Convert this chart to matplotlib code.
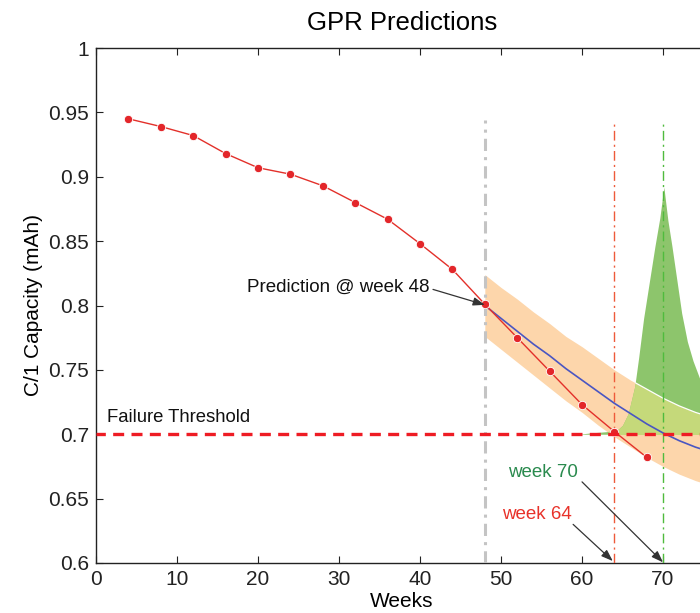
import matplotlib
matplotlib.use("Agg")
import matplotlib.pyplot as plt
import numpy as np

plt.rcParams['font.family'] = ['Liberation Sans', 'DejaVu Sans']

# Observed capacity data
obs_weeks = [4, 8, 12, 16, 20, 24, 28, 32, 36, 40, 44, 48, 52, 56, 60, 64, 68]
obs_cap = [0.945, 0.939, 0.932, 0.918, 0.907, 0.902, 0.893, 0.880, 0.867,
           0.848, 0.828, 0.801, 0.775, 0.749, 0.723, 0.702, 0.682]

# GPR prediction (mean and confidence band)
pred_weeks = [48, 50, 52, 54, 56, 58, 60, 62, 64, 66, 68, 70, 72, 74, 76]
pred_mean = [0.800, 0.790, 0.780, 0.770, 0.761, 0.751, 0.742, 0.733, 0.724,
             0.716, 0.708, 0.701, 0.695, 0.690, 0.686]
pred_upper = [0.824, 0.814, 0.805, 0.795, 0.786, 0.776, 0.768, 0.759, 0.750,
              0.742, 0.735, 0.728, 0.722, 0.717, 0.713]
pred_lower = [0.776, 0.766, 0.756, 0.746, 0.736, 0.726, 0.717, 0.707, 0.698,
              0.690, 0.682, 0.675, 0.669, 0.664, 0.660]

# Failure-time distribution (drawn above the threshold)
pdf_weeks = [59.5, 61, 63, 64.3, 65, 65.7, 66.5, 67, 67.6, 68.3, 69, 69.6, 70.1,
             70.6, 71.1, 71.7, 72.3, 73, 73.7, 74.6, 75.5, 76.5]
pdf_top = [0.700, 0.701, 0.702, 0.703, 0.707, 0.716, 0.737, 0.760, 0.790, 0.818,
           0.846, 0.868, 0.892, 0.866, 0.846, 0.820, 0.794, 0.772, 0.757, 0.742,
           0.732, 0.724]

threshold = 0.7
pred_week = 48
fail_actual = 64
fail_pred = 70

xticks = [0, 10, 20, 30, 40, 50, 60, 70]
yticks = [0.6, 0.65, 0.7, 0.75, 0.8, 0.85, 0.9, 0.95, 1.0]
ytick_labels = ['0.6', '0.65', '0.7', '0.75', '0.8', '0.85', '0.9', '0.95', '1']

fig = plt.figure(figsize=(7.0, 6.13), dpi=100)
ax = fig.add_axes([96 / 700, 50 / 613, 611.6 / 700, 515 / 613])
ax.set_xlim(0, 75.5)
ax.set_ylim(0.6, 1.0)

orange = '#fdd6ab'
green_dark = '#8dc56c'
green_light = '#c5d97a'

band = ax.fill_between(pred_weeks, pred_lower, pred_upper, color=orange,
                       linewidth=0, zorder=1)
g1 = ax.fill_between(pdf_weeks, threshold, pdf_top, color=green_dark,
                     linewidth=0, zorder=2)
g2 = ax.fill_between(pdf_weeks, threshold, pdf_top, color=green_light,
                     linewidth=0, zorder=3)
g2.set_clip_path(band.get_paths()[0], ax.transData)
wl, = ax.plot(pred_weeks, pred_upper, color='white', lw=0.9, zorder=3.5)
wl.set_clip_path(g1.get_paths()[0], ax.transData)

# vertical markers
vtop = 0.944
ax.plot([pred_week, pred_week], [0.6, vtop], color='#c4c4c4', lw=2.2,
        ls=(0, (4, 2, 1, 2)), zorder=4)
ax.plot([fail_actual, fail_actual], [0.6, vtop], color='#ee5a3a', lw=1.0,
        ls=(0, (7, 3, 1.5, 3)), zorder=4)
ax.plot([fail_pred, fail_pred], [0.6, vtop], color='#4fbb3d', lw=1.0,
        ls=(0, (7, 3, 1.5, 3)), zorder=4)

ax.plot(pred_weeks, pred_mean, color='#4a56c2', lw=1.2, zorder=5)
ax.plot(obs_weeks, obs_cap, color='#e3302a', lw=1.0, marker='o', ms=6,
        mfc='#e3262a', mec='white', mew=0.6, zorder=6)

ax.plot([0, 80], [threshold, threshold], color='#ee1c24', lw=2.4,
        ls=(0.5, (3.3, 2.2)), zorder=7)

# Annotations
ax.text(1.3, 0.7097, 'Failure Threshold', fontsize=13.3, color='#111111',
        ha='left', va='baseline')
ax.text(41.15, 0.8107, 'Prediction @ week 48', fontsize=13.5, color='#111111',
        ha='right', va='baseline')
ax.text(50.9, 0.6668, 'week 70', fontsize=13.5, color='#2a8a4e',
        ha='left', va='baseline')
ax.text(50.1, 0.6340, 'week 64', fontsize=13.5, color='#e8322a',
        ha='left', va='baseline')

ap = dict(arrowstyle='-|>,head_length=0.7,head_width=0.25', color='#333333',
          lw=0.9, shrinkA=0, shrinkB=0)
ax.annotate('', xy=(48, 0.8005), xytext=(41.6, 0.8125), arrowprops=ap, zorder=8)
ax.annotate('', xy=(70, 0.6005), xytext=(60.0, 0.663), arrowprops=ap, zorder=8)
ax.annotate('', xy=(63.8, 0.6015), xytext=(58.9, 0.630), arrowprops=ap, zorder=8)

ax.set_xticks(xticks)
ax.set_yticks(yticks)
ax.set_yticklabels(ytick_labels)
ax.tick_params(direction='in', length=5, width=0.8, labelsize=15, pad=5,
               top=True, right=True, colors='#222222')
for s in ax.spines.values():
    s.set_linewidth(1.0)
    s.set_color('#222222')

ax.set_xlabel('Weeks', fontsize=15, labelpad=2)
ax.set_ylabel('C/1 Capacity (mAh)', fontsize=15, labelpad=4)
ax.set_title('GPR Predictions', fontsize=18.5, pad=13)

fig.savefig('out.png', dpi=100)
